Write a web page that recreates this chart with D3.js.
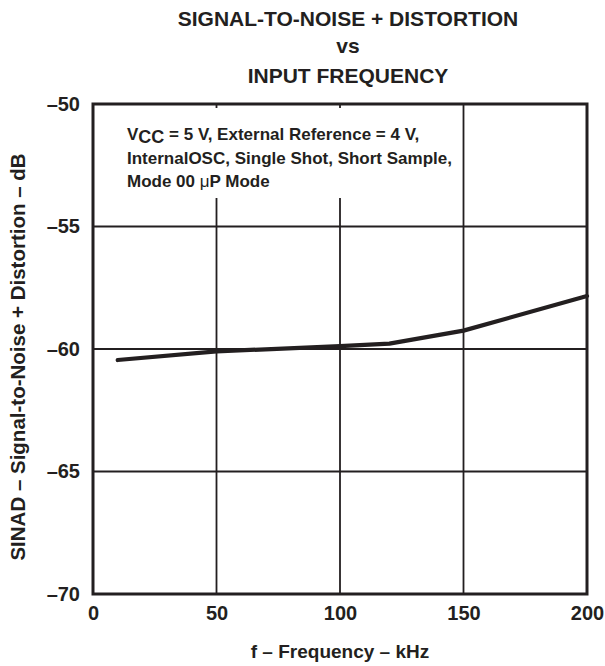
<!DOCTYPE html>
<html>
<head>
<meta charset="utf-8">
<script src="https://cdn.jsdelivr.net/npm/d3@7"></script>
<style>
  body { margin: 0; background: #fff; }
  text { font-family: Arial, "Liberation Sans", sans-serif; font-weight: bold; fill: #231f20; }
</style>
</head>
<body>
<script>
// data
var freq = [10, 50, 100, 120, 150, 200];
var sinad = [-60.45, -60.1, -59.88, -59.78, -59.25, -57.84];
var xTicks = [0, 50, 100, 150, 200];
var yTicks = [-70, -65, -60, -55, -50];
var titleLines = ["SIGNAL-TO-NOISE + DISTORTION", "vs", "INPUT FREQUENCY"];
var noteLines = ["InternalOSC, Single Shot, Short Sample,", "Mode 00 "];

var W = 605, H = 666;
var margin = {top: 104, right: 18, bottom: 72, left: 93},
    width = W - margin.left - margin.right,
    height = H - margin.top - margin.bottom;

var ink = "#231f20";

var svg = d3.select("body").append("svg")
    .attr("width", W)
    .attr("height", H);

var x = d3.scaleLinear().domain([0, 200]).range([0, width]);
var y = d3.scaleLinear().domain([-70, -50]).range([height, 0]);

var g = svg.append("g")
    .attr("transform", "translate(" + margin.left + "," + margin.top + ")");

// grid
g.selectAll(".vgrid")
    .data(xTicks.slice(1, -1))
  .enter().append("line")
    .attr("x1", function(d) { return x(d); })
    .attr("x2", function(d) { return x(d); })
    .attr("y1", 0).attr("y2", height)
    .attr("stroke", ink).attr("stroke-width", 1.8);

g.selectAll(".hgrid")
    .data(yTicks.slice(1, -1))
  .enter().append("line")
    .attr("x1", 0).attr("x2", width)
    .attr("y1", function(d) { return y(d); })
    .attr("y2", function(d) { return y(d); })
    .attr("stroke", ink).attr("stroke-width", 1.8);

// annotation, white box behind it
var note = g.append("g");
var noteBg = note.append("rect").attr("fill", "#fff");
var noteText = note.append("text")
    .attr("x", 34)
    .attr("y", 36)
    .style("font-size", "17px");
var l1 = noteText.append("tspan").attr("x", 34).attr("dy", 0);
l1.append("tspan").text("V");
l1.append("tspan").attr("dy", 3).style("font-size", "18px").text("CC");
l1.append("tspan").attr("dy", -3).text(" = 5 V, External Reference = 4 V,");
noteText.append("tspan").attr("x", 34).attr("dy", 23.5).text(noteLines[0]);
noteText.append("tspan").attr("x", 34).attr("dy", 23.5).text(noteLines[1]);
noteText.append("tspan").style("font-weight", "normal").text("\u03bc");
noteText.append("tspan").text("P Mode");
var bb = noteText.node().getBBox();
noteBg.attr("x", bb.x - 6).attr("y", 4)
    .attr("width", bb.width + 12).attr("height", 90);

// curve
var line = d3.line()
    .x(function(d, i) { return x(freq[i]); })
    .y(function(d) { return y(d); });

g.append("path")
    .datum(sinad)
    .attr("d", line)
    .attr("fill", "none")
    .attr("stroke", ink)
    .attr("stroke-width", 4.2)
    .attr("stroke-linejoin", "round")
    .attr("stroke-linecap", "round");

// frame
g.append("rect")
    .attr("width", width).attr("height", height)
    .attr("fill", "none")
    .attr("stroke", ink)
    .attr("stroke-width", 3);

// axes
var fmt = function(d) { return d < 0 ? "\u2013" + Math.abs(d) : d; };

var xAxis = g.append("g")
    .attr("transform", "translate(0," + height + ")")
    .call(d3.axisBottom(x).tickValues(xTicks).tickSize(0).tickPadding(12).tickFormat(fmt));
xAxis.select(".domain").remove();
xAxis.selectAll("text")
    .attr("fill", ink)
    .style("font-size", "20px")
    .style("font-family", "Arial, 'Liberation Sans', sans-serif");

var yAxis = g.append("g")
    .call(d3.axisLeft(y).tickValues(yTicks).tickSize(0).tickPadding(13).tickFormat(fmt));
yAxis.select(".domain").remove();
yAxis.selectAll("text")
    .attr("fill", ink)
    .style("font-size", "20px")
    .style("font-family", "Arial, 'Liberation Sans', sans-serif");

// axis titles
svg.append("text")
    .attr("x", margin.left + width / 2)
    .attr("y", 658)
    .attr("text-anchor", "middle")
    .style("font-size", "19px")
    .text("f \u2013 Frequency \u2013 kHz");

svg.append("text")
    .attr("transform", "translate(25," + 357 + ") rotate(-90)")
    .attr("text-anchor", "middle")
    .style("font-size", "20.5px")
    .text("SINAD \u2013 Signal-to-Noise + Distortion \u2013 dB");

// title
var tY = [26, 53, 83];
svg.selectAll(".title")
    .data(titleLines)
  .enter().append("text")
    .attr("x", 348)
    .attr("y", function(d, i) { return tY[i]; })
    .attr("text-anchor", "middle")
    .style("font-size", "21px")
    .text(function(d) { return d; });
</script>
</body>
</html>
